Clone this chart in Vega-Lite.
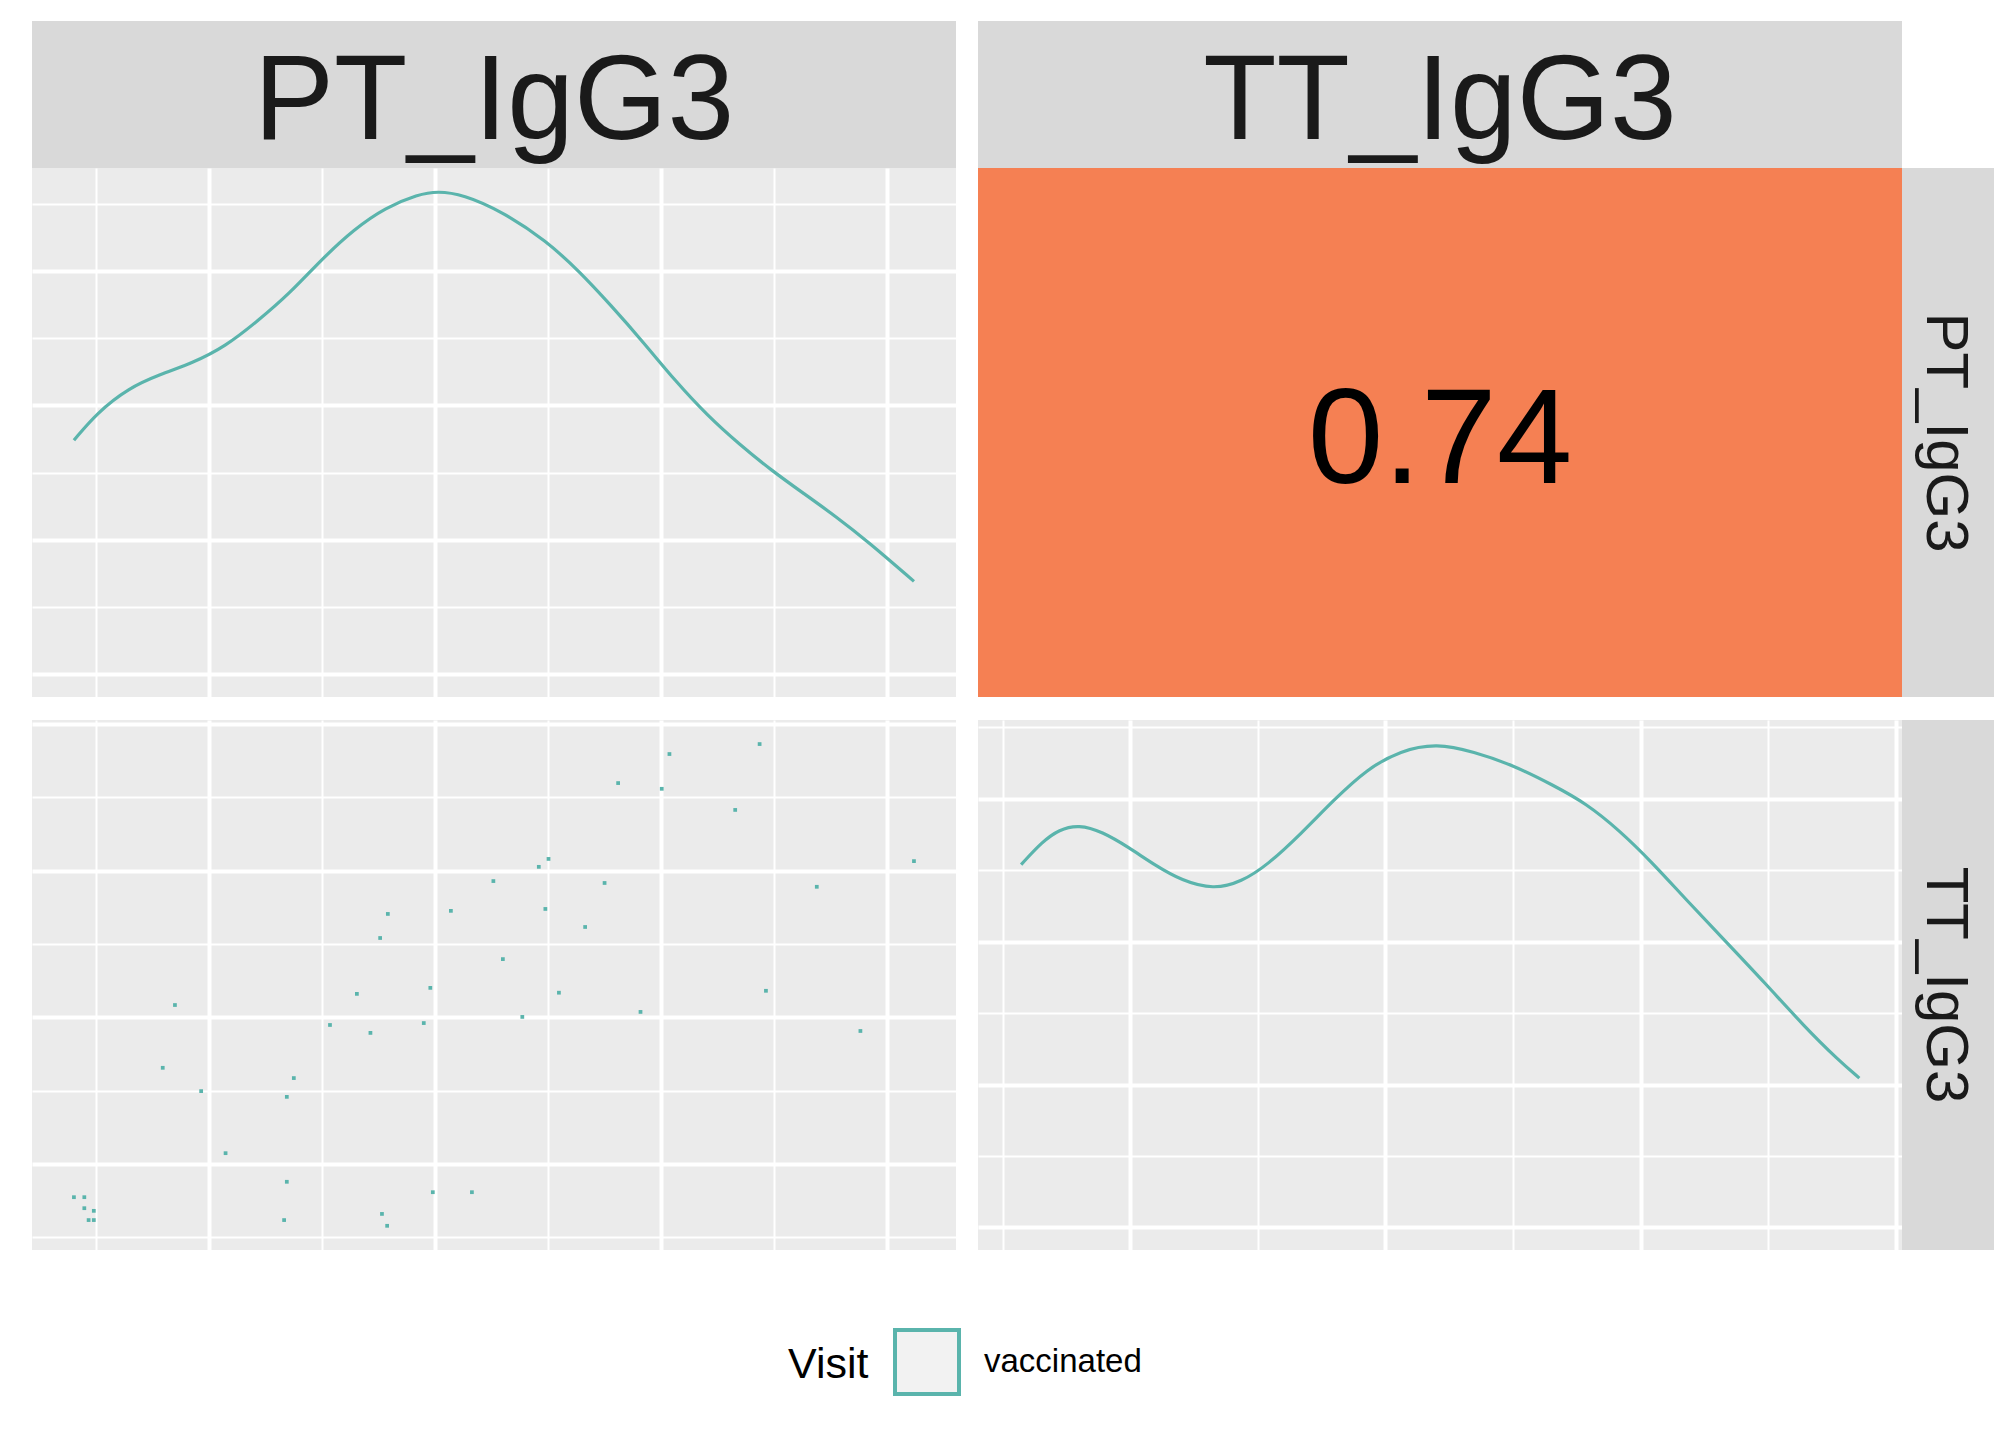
{
  "$schema": "https://vega.github.io/schema/vega-lite/v6.json",
  "background": "white",
  "padding": {"left": 32, "top": 21, "right": 0, "bottom": 0},
  "autosize": {"type": "pad"},
  "config": {
    "font": "Liberation Sans",
    "view": {"stroke": null},
    "axis": {"labels": false, "ticks": false, "domain": false, "title": null, "gridColor": "#FFFFFF", "gridOpacity": 1, "minExtent": 0, "maxExtent": 0, "labelPadding": 0, "offset": 0},
    "concat": {"spacing": 0}
  },
  "datasets": {
    "scatter": [
      {"PT": 3.436, "TT": 3.863, "Visit": "vaccinated"},
      {"PT": 3.037, "TT": 3.795, "Visit": "vaccinated"},
      {"PT": 2.810, "TT": 3.597, "Visit": "vaccinated"},
      {"PT": 3.003, "TT": 3.558, "Visit": "vaccinated"},
      {"PT": 3.328, "TT": 3.414, "Visit": "vaccinated"},
      {"PT": 2.502, "TT": 3.080, "Visit": "vaccinated"},
      {"PT": 4.119, "TT": 3.065, "Visit": "vaccinated"},
      {"PT": 2.459, "TT": 3.026, "Visit": "vaccinated"},
      {"PT": 2.258, "TT": 2.929, "Visit": "vaccinated"},
      {"PT": 2.750, "TT": 2.916, "Visit": "vaccinated"},
      {"PT": 3.689, "TT": 2.890, "Visit": "vaccinated"},
      {"PT": 1.791, "TT": 2.705, "Visit": "vaccinated"},
      {"PT": 2.070, "TT": 2.726, "Visit": "vaccinated"},
      {"PT": 2.488, "TT": 2.739, "Visit": "vaccinated"},
      {"PT": 2.664, "TT": 2.616, "Visit": "vaccinated"},
      {"PT": 1.757, "TT": 2.541, "Visit": "vaccinated"},
      {"PT": 2.300, "TT": 2.397, "Visit": "vaccinated"},
      {"PT": 1.979, "TT": 2.201, "Visit": "vaccinated"},
      {"PT": 1.654, "TT": 2.160, "Visit": "vaccinated"},
      {"PT": 2.548, "TT": 2.168, "Visit": "vaccinated"},
      {"PT": 3.464, "TT": 2.181, "Visit": "vaccinated"},
      {"PT": 0.849, "TT": 2.084, "Visit": "vaccinated"},
      {"PT": 2.386, "TT": 2.003, "Visit": "vaccinated"},
      {"PT": 2.909, "TT": 2.037, "Visit": "vaccinated"},
      {"PT": 1.535, "TT": 1.948, "Visit": "vaccinated"},
      {"PT": 1.714, "TT": 1.894, "Visit": "vaccinated"},
      {"PT": 1.950, "TT": 1.961, "Visit": "vaccinated"},
      {"PT": 3.882, "TT": 1.907, "Visit": "vaccinated"},
      {"PT": 0.795, "TT": 1.656, "Visit": "vaccinated"},
      {"PT": 1.375, "TT": 1.586, "Visit": "vaccinated"},
      {"PT": 0.965, "TT": 1.497, "Visit": "vaccinated"},
      {"PT": 1.344, "TT": 1.458, "Visit": "vaccinated"},
      {"PT": 1.073, "TT": 1.074, "Visit": "vaccinated"},
      {"PT": 1.344, "TT": 0.879, "Visit": "vaccinated"},
      {"PT": 1.990, "TT": 0.808, "Visit": "vaccinated"},
      {"PT": 2.163, "TT": 0.808, "Visit": "vaccinated"},
      {"PT": 0.402, "TT": 0.774, "Visit": "vaccinated"},
      {"PT": 0.448, "TT": 0.774, "Visit": "vaccinated"},
      {"PT": 0.448, "TT": 0.699, "Visit": "vaccinated"},
      {"PT": 0.490, "TT": 0.681, "Visit": "vaccinated"},
      {"PT": 0.467, "TT": 0.618, "Visit": "vaccinated"},
      {"PT": 0.490, "TT": 0.618, "Visit": "vaccinated"},
      {"PT": 1.332, "TT": 0.618, "Visit": "vaccinated"},
      {"PT": 1.765, "TT": 0.660, "Visit": "vaccinated"},
      {"PT": 1.788, "TT": 0.579, "Visit": "vaccinated"}
    ],
    "densPT": [
      {"PT": 0.402, "density": 2.740, "Visit": "vaccinated"},
      {"PT": 0.502, "density": 2.941, "Visit": "vaccinated"},
      {"PT": 0.644, "density": 3.130, "Visit": "vaccinated"},
      {"PT": 0.786, "density": 3.232, "Visit": "vaccinated"},
      {"PT": 0.929, "density": 3.317, "Visit": "vaccinated"},
      {"PT": 1.071, "density": 3.437, "Visit": "vaccinated"},
      {"PT": 1.213, "density": 3.625, "Visit": "vaccinated"},
      {"PT": 1.355, "density": 3.830, "Visit": "vaccinated"},
      {"PT": 1.498, "density": 4.087, "Visit": "vaccinated"},
      {"PT": 1.640, "density": 4.309, "Visit": "vaccinated"},
      {"PT": 1.782, "density": 4.474, "Visit": "vaccinated"},
      {"PT": 1.925, "density": 4.570, "Visit": "vaccinated"},
      {"PT": 2.010, "density": 4.595, "Visit": "vaccinated"},
      {"PT": 2.124, "density": 4.570, "Visit": "vaccinated"},
      {"PT": 2.294, "density": 4.446, "Visit": "vaccinated"},
      {"PT": 2.494, "density": 4.223, "Visit": "vaccinated"},
      {"PT": 2.636, "density": 4.001, "Visit": "vaccinated"},
      {"PT": 2.778, "density": 3.745, "Visit": "vaccinated"},
      {"PT": 2.921, "density": 3.471, "Visit": "vaccinated"},
      {"PT": 3.063, "density": 3.181, "Visit": "vaccinated"},
      {"PT": 3.205, "density": 2.924, "Visit": "vaccinated"},
      {"PT": 3.347, "density": 2.709, "Visit": "vaccinated"},
      {"PT": 3.490, "density": 2.514, "Visit": "vaccinated"},
      {"PT": 3.632, "density": 2.343, "Visit": "vaccinated"},
      {"PT": 3.774, "density": 2.172, "Visit": "vaccinated"},
      {"PT": 3.917, "density": 1.984, "Visit": "vaccinated"},
      {"PT": 4.119, "density": 1.690, "Visit": "vaccinated"}
    ],
    "densTT": [
      {"TT": 0.573, "density": 3.539},
      {"TT": 0.656, "density": 3.700},
      {"TT": 0.722, "density": 3.785},
      {"TT": 0.799, "density": 3.818},
      {"TT": 0.890, "density": 3.770},
      {"TT": 0.994, "density": 3.660},
      {"TT": 1.098, "density": 3.534},
      {"TT": 1.202, "density": 3.427},
      {"TT": 1.327, "density": 3.365},
      {"TT": 1.436, "density": 3.418},
      {"TT": 1.540, "density": 3.539},
      {"TT": 1.669, "density": 3.754},
      {"TT": 1.799, "density": 3.994},
      {"TT": 1.929, "density": 4.209},
      {"TT": 2.059, "density": 4.337},
      {"TT": 2.202, "density": 4.388},
      {"TT": 2.345, "density": 4.329},
      {"TT": 2.501, "density": 4.235},
      {"TT": 2.656, "density": 4.096},
      {"TT": 2.786, "density": 3.968},
      {"TT": 2.916, "density": 3.780},
      {"TT": 3.046, "density": 3.553},
      {"TT": 3.176, "density": 3.298},
      {"TT": 3.332, "density": 3.004},
      {"TT": 3.488, "density": 2.709},
      {"TT": 3.644, "density": 2.401},
      {"TT": 3.773, "density": 2.174},
      {"TT": 3.857, "density": 2.045}
    ],
    "corr": [{"r": "0.74"}],
    "stripPT": [{"label": "PT_IgG3"}],
    "stripTT": [{"label": "TT_IgG3"}]
  },
  "vconcat": [
    {
      "hconcat": [
        {
          "vconcat": [
            {
              "width": 924, "height": 147,
              "view": {"fill": "#D9D9D9", "stroke": null},
              "data": {"name": "stripPT"},
              "mark": {"type": "text", "fontSize": 120, "baseline": "alphabetic", "align": "center", "dy": 44, "color": "#1A1A1A"},
              "encoding": {"text": {"field": "label", "type": "nominal"}}
            },
            {
              "width": 924, "height": 529,
              "view": {"fill": "#EBEBEB", "stroke": null},
              "data": {"name": "densPT"},
              "mark": {"type": "line", "interpolate": "basis", "strokeWidth": 3.2},
              "encoding": {
                "x": {"field": "PT", "type": "quantitative", "scale": {"domain": [0.2165, 4.305], "nice": false, "zero": false},
                      "axis": {"values": [0.5, 1, 1.5, 2, 2.5, 3, 3.5, 4], "gridWidth": {"condition": {"test": "datum.value % 1 === 0", "value": 4}, "value": 2}}},
                "y": {"field": "density", "type": "quantitative", "scale": {"domain": [0.829, 4.767], "nice": false, "zero": false},
                      "axis": {"values": [1, 1.5, 2, 2.5, 3, 3.5, 4, 4.5], "gridWidth": {"condition": {"test": "datum.value % 1 === 0", "value": 4}, "value": 2}}},
                "stroke": {
                  "field": "Visit", "type": "nominal",
                  "scale": {"domain": ["vaccinated"], "range": ["#5AB4AC"]},
                  "legend": {
                    "orient": "none", "legendX": 756, "legendY": 1307,
                    "direction": "horizontal",
                    "title": "Visit", "titleOrient": "left", "titleAnchor": "middle", "titleBaseline": "middle",
                    "titleFontSize": 43, "titleFontWeight": "normal", "titleColor": "#000000", "titlePadding": 24,
                    "labelFontSize": 33, "labelColor": "#000000", "labelOffset": 23,
                    "symbolType": "square", "symbolSize": 4096, "symbolStrokeWidth": 4, "symbolFillColor": "#F2F2F2",
                    "padding": 0
                  }
                }
              }
            }
          ],
          "spacing": 0
        },
        {
          "vconcat": [
            {
              "width": 924, "height": 147,
              "view": {"fill": "#D9D9D9", "stroke": null},
              "data": {"name": "stripTT"},
              "mark": {"type": "text", "fontSize": 120, "baseline": "alphabetic", "align": "center", "dy": 44, "color": "#1A1A1A"},
              "encoding": {"text": {"field": "label", "type": "nominal"}}
            },
            {
              "hconcat": [
                {
                  "width": 924, "height": 529,
                  "view": {"fill": "#F58053", "stroke": null},
                  "data": {"name": "corr"},
                  "mark": {"type": "text", "fontSize": 136, "baseline": "alphabetic", "align": "center", "dy": 50, "color": "#000000"},
                  "encoding": {"text": {"field": "r", "type": "nominal"}}
                },
                {
                  "width": 92, "height": 529,
                  "view": {"fill": "#D9D9D9", "stroke": null},
                  "data": {"name": "stripPT"},
                  "mark": {"type": "text", "fontSize": 60, "angle": 90, "baseline": "alphabetic", "align": "center", "dy": 21, "color": "#1A1A1A"},
                  "encoding": {"text": {"field": "label", "type": "nominal"}}
                }
              ],
              "spacing": 0
            }
          ],
          "spacing": 0
        }
      ],
      "spacing": 22
    },
    {
      "hconcat": [
        {
          "width": 924, "height": 530,
          "view": {"fill": "#EBEBEB", "stroke": null},
          "data": {"name": "scatter"},
          "mark": {"type": "point", "shape": "square", "filled": true, "size": 14, "opacity": 1, "color": "#5AB4AC"},
          "encoding": {
            "x": {"field": "PT", "type": "quantitative", "scale": {"domain": [0.2165, 4.305], "nice": false, "zero": false},
                  "axis": {"values": [0.5, 1, 1.5, 2, 2.5, 3, 3.5, 4], "gridWidth": {"condition": {"test": "datum.value % 1 === 0", "value": 4}, "value": 2}}},
            "y": {"field": "TT", "type": "quantitative", "scale": {"domain": [0.414, 4.027], "nice": false, "zero": false},
                  "axis": {"values": [0.5, 1, 1.5, 2, 2.5, 3, 3.5, 4], "gridWidth": {"condition": {"test": "datum.value % 1 === 0", "value": 4}, "value": 2}}}
          }
        },
        {
          "hconcat": [
            {
              "width": 924, "height": 530,
              "view": {"fill": "#EBEBEB", "stroke": null},
              "data": {"name": "densTT"},
              "mark": {"type": "line", "interpolate": "basis", "color": "#5AB4AC", "strokeWidth": 3.2},
              "encoding": {
                "x": {"field": "TT", "type": "quantitative", "scale": {"domain": [0.404, 4.024], "nice": false, "zero": false},
                      "axis": {"values": [0.5, 1, 1.5, 2, 2.5, 3, 3.5, 4], "gridWidth": {"condition": {"test": "datum.value % 1 === 0", "value": 4}, "value": 2}}},
                "y": {"field": "density", "type": "quantitative", "scale": {"domain": [0.842, 4.551], "nice": false, "zero": false},
                      "axis": {"values": [1, 1.5, 2, 2.5, 3, 3.5, 4, 4.5], "gridWidth": {"condition": {"test": "datum.value % 1 === 0", "value": 4}, "value": 2}}}
              }
            },
            {
              "width": 92, "height": 530,
              "view": {"fill": "#D9D9D9", "stroke": null},
              "data": {"name": "stripTT"},
              "mark": {"type": "text", "fontSize": 60, "angle": 90, "baseline": "alphabetic", "align": "center", "dy": 21, "color": "#1A1A1A"},
              "encoding": {"text": {"field": "label", "type": "nominal"}}
            }
          ],
          "spacing": 0
        }
      ],
      "spacing": 22
    }
  ],
  "spacing": 23
}
